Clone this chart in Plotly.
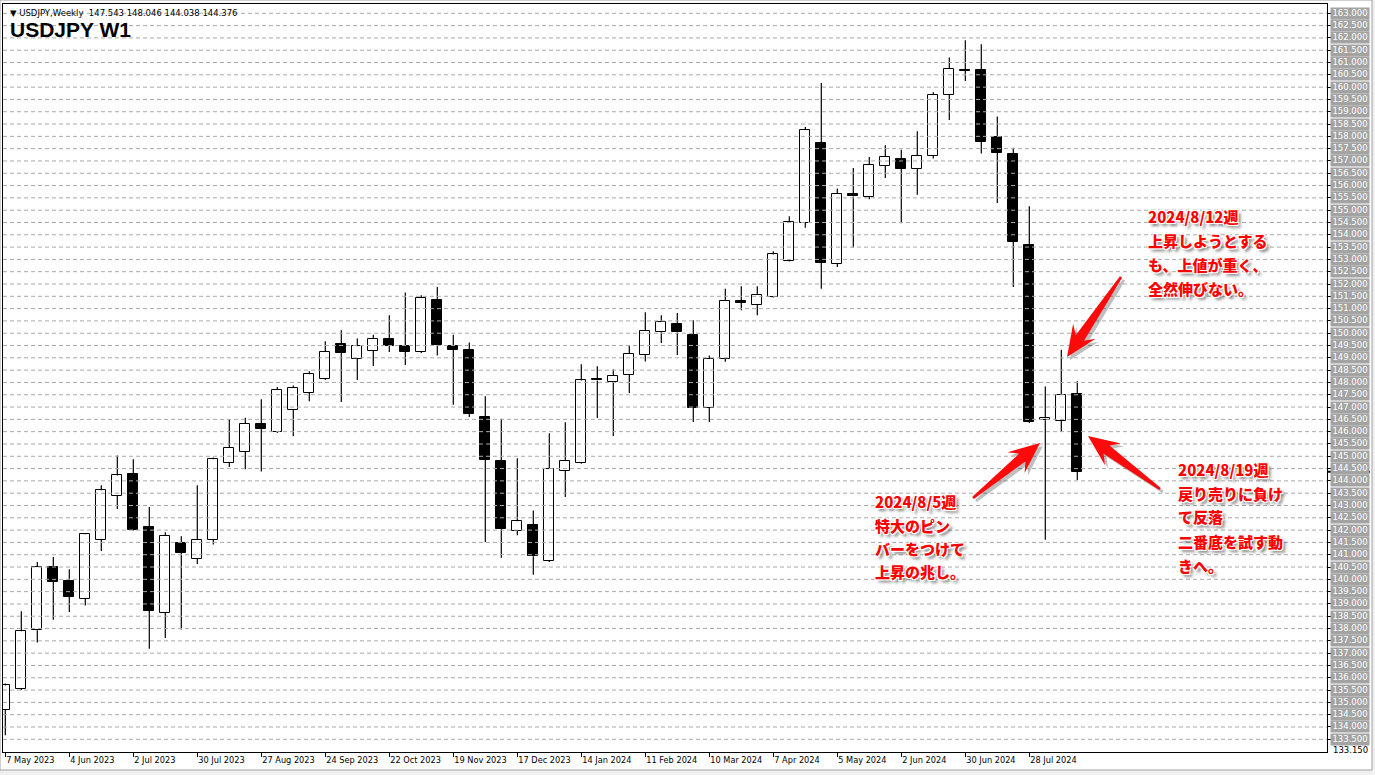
import math

import numpy as np
import plotly.graph_objects as go

# canvas / plot-area geometry in screen pixels
W, H = 1375, 775
PLOT_L, PLOT_R, PLOT_T, PLOT_B = 3, 1327, 4, 752

# weekly USDJPY candles, first bar = week of 7 May 2023
opens = [134.70, 135.56, 137.93, 140.52, 139.92, 139.20, 141.60, 143.39, 144.30, 142.11,
         138.65, 141.48, 140.83, 141.60, 144.74, 145.19, 146.33, 145.99, 146.90, 147.59,
         148.14, 149.55, 148.95, 149.29, 149.78, 149.50, 149.25, 151.37, 149.50, 149.33,
         146.61, 144.82, 141.98, 142.19, 140.76, 144.42, 144.74, 148.16, 148.03, 148.32,
         149.13, 150.04, 150.39, 149.92, 146.96, 148.95, 151.33, 151.16, 151.49, 152.95,
         154.48, 157.75, 152.83, 155.64, 155.55, 156.81, 157.06, 156.69, 157.20, 159.70,
         160.70, 160.68, 157.97, 157.27, 153.57, 146.46, 146.45, 147.543]
highs = [135.77, 138.70, 140.70, 140.91, 140.41, 141.86, 143.82, 145.03, 144.88, 142.94,
         141.91, 141.75, 143.82, 144.95, 146.50, 146.57, 147.32, 147.82, 147.88, 148.46,
         149.67, 150.12, 149.79, 149.94, 150.73, 151.66, 151.54, 151.88, 149.94, 149.62,
         147.44, 146.53, 144.92, 142.80, 145.94, 146.38, 148.74, 148.66, 148.53, 149.51,
         150.85, 150.73, 150.82, 150.53, 149.10, 151.81, 151.91, 151.91, 153.33, 154.75,
         158.38, 160.17, 155.88, 156.71, 157.16, 157.64, 157.46, 158.21, 159.79, 161.20,
         161.90, 161.74, 158.81, 157.54, 155.16, 147.84, 149.33, 148.046]
lows = [133.66, 135.50, 137.43, 138.36, 138.67, 138.94, 141.15, 142.86, 141.98, 137.18,
        137.62, 137.96, 140.62, 141.42, 144.56, 144.47, 144.38, 145.95, 145.82, 147.24,
        148.10, 147.21, 148.10, 148.67, 149.24, 148.71, 149.20, 149.10, 147.09, 146.60,
        141.52, 140.88, 141.79, 140.19, 140.70, 143.35, 144.70, 146.56, 145.82, 147.57,
        148.85, 149.60, 149.12, 146.39, 146.39, 148.84, 150.93, 150.73, 151.45, 152.91,
        154.29, 151.81, 152.69, 153.48, 155.44, 156.31, 154.47, 155.63, 157.10, 158.66,
        160.25, 157.30, 155.29, 151.88, 146.35, 141.61, 145.99, 144.038]
closes = [135.69, 137.89, 140.52, 139.89, 139.28, 141.83, 143.62, 144.22, 142.02, 138.71,
          141.78, 141.07, 141.61, 144.88, 145.35, 146.33, 146.11, 147.71, 147.79, 148.33,
          149.25, 149.20, 149.47, 149.78, 149.50, 149.24, 151.45, 149.52, 149.33, 146.73,
          144.86, 142.06, 142.36, 140.94, 144.50, 144.82, 148.08, 148.08, 148.28, 149.17,
          150.11, 150.47, 150.03, 146.96, 148.97, 151.33, 151.23, 151.57, 153.20, 154.54,
          158.27, 152.87, 155.67, 155.56, 156.85, 157.18, 156.67, 157.22, 159.70, 160.75,
          160.67, 157.77, 157.32, 153.71, 146.39, 146.55, 147.51, 144.376]

tick_labels = ["7 May 2023", "4 Jun 2023", "2 Jul 2023", "30 Jul 2023", "27 Aug 2023",
               "24 Sep 2023", "22 Oct 2023", "19 Nov 2023", "17 Dec 2023", "14 Jan 2024",
               "11 Feb 2024", "10 Mar 2024", "7 Apr 2024", "5 May 2024", "2 Jun 2024",
               "30 Jun 2024", "28 Jul 2024"]
tick_every = 4
price_ticks = np.round(np.arange(133.5, 163.001, 0.5), 3)
chart_low = 133.150
last_bid = closes[-1]

notes = [
    (1146, [216.7, 240.7, 264.3, 288.3],
     ["2024/8/12週", "上昇しようとする", "も、上値が重く、", "全然伸びない。"]),
    (873, [501.7, 525.0, 548.3, 571.7],
     ["2024/8/5週", "特大のピン", "バーをつけて", "上昇の兆し。"]),
    (1176, [469.3, 493.3, 516.7, 541.7, 565.0],
     ["2024/8/19週", "戻り売りに負け", "て反落", "二番底を試す動", "きへ。"]),
]
arrows = [((1121, 277), (1067, 357)),
          ((973, 498), (1040, 443)),
          ((1160, 489), (1088, 436))]

X_RANGE = [(PLOT_L - 5.3) / 16, (PLOT_R - 5.3) / 16]
Y_RANGE = [163 - (PLOT_B - 13.3) / 24.61, 163 + (13.3 - PLOT_T) / 24.61]


def xp(px):
    return (px - PLOT_L) / (PLOT_R - PLOT_L)


def yp(py):
    return (PLOT_B - py) / (PLOT_B - PLOT_T)


def arrow_path(tail, tip, dx=0.0, dy=0.0):
    x0, y0 = tail[0] + dx, tail[1] + dy
    x1, y1 = tip[0] + dx, tip[1] + dy
    L = math.hypot(x1 - x0, y1 - y0)
    ux, uy = (x1 - x0) / L, (y1 - y0) / L
    nx, ny = -uy, ux
    hl, hw, nw, tw = 31, 13.5, 5, 1.3

    def P(t, w):
        return (x0 + ux * t + nx * w, y0 + uy * t + ny * w)

    pts = [P(0, tw), P(L - hl + 8, nw), P(L - hl, hw), P(L, 0),
           P(L - hl, -hw), P(L - hl + 8, -nw), P(0, -tw)]
    return "M " + " L ".join(f"{xp(a):.5f},{yp(b):.5f}" for a, b in pts) + " Z"


idx = list(range(len(opens)))
body_lo = [min(o, c) for o, c in zip(opens, closes)]
body_hi = [max(o, c) for o, c in zip(opens, closes)]

wx, wy = [], []
for i, h, l, lo, hi in zip(idx, highs, lows, body_lo, body_hi):
    wx += [i, i, None, i, i, None]
    wy += [h, hi, None, lo, l, None]

fig = go.Figure()
fig.add_trace(go.Bar(
    x=idx,
    y=[hi - lo for lo, hi in zip(body_lo, body_hi)],
    base=body_lo,
    width=0.62,
    marker=dict(color=["#ffffff" if c >= o else "#000000" for o, c in zip(opens, closes)],
                line=dict(color="#000000", width=1)),
    hoverinfo="skip",
))
fig.add_trace(go.Scatter(x=wx, y=wy, mode="lines",
                         line=dict(color="#000000", width=1.2), hoverinfo="skip"))

shapes = [
    dict(type="rect", xref="paper", yref="paper", layer="below",
         x0=xp(0), x1=xp(1372), y0=yp(770), y1=yp(0),
         fillcolor="#ffffff", line=dict(color="#a0a0a0", width=1)),
]
# MT4 draws its grid in front of the candles
for p in price_ticks:
    shapes.append(dict(type="line", xref="paper", yref="y", x0=0, x1=1, y0=p, y1=p,
                       layer="above", line=dict(color="#a9a9a9", width=1, dash="4px,3px")))
shapes.append(dict(type="line", xref="paper", yref="y", x0=1.0, x1=xp(1370),
                   y0=last_bid, y1=last_bid, line=dict(color="#000000", width=2)))
for tail, tip in arrows:
    shapes.append(dict(type="path", xref="paper", yref="paper",
                       path=arrow_path(tail, tip, 3, 3),
                       fillcolor="rgba(0,0,0,0.25)", line=dict(width=0)))
    shapes.append(dict(type="path", xref="paper", yref="paper",
                       path=arrow_path(tail, tip),
                       fillcolor="#ff0a0a", line=dict(width=0)))

annotations = [
    dict(x=xp(8), y=yp(13), xref="paper", yref="paper", xanchor="left", yanchor="middle",
         showarrow=False, text="▼ USDJPY,Weekly\u00a0 147.543 148.046 144.038 144.376",
         font=dict(family="DejaVu Sans", size=8.5, color="#000000")),
    dict(x=xp(8), y=yp(29), xref="paper", yref="paper", xanchor="left", yanchor="middle",
         showarrow=False, text="<b>USDJPY W1</b>",
         font=dict(family="Liberation Sans", size=21, color="#000000")),
    dict(x=xp(1331), y=yp(749.5), xref="paper", yref="paper", xanchor="left",
         yanchor="middle", showarrow=False, text=f"{chart_low:.3f}",
         font=dict(family="DejaVu Sans", size=8.5, color="#000000")),
]
for p in price_ticks:
    annotations.append(dict(
        x=xp(1350), y=p, xref="paper", yref="y", xanchor="center", yanchor="middle",
        showarrow=False, text=f"{p:.3f}", width=38, height=10.5, borderpad=0,
        bgcolor="#a3a3a3",
        font=dict(family="DejaVu Sans", size=8.5, color="#ffffff")))

shadow = ("1px 1px 0 #fff, -1px -1px 0 #fff, 1px -1px 0 #fff, -1px 1px 0 #fff, "
          "3px 3px 3px rgba(0,0,0,0.5)")
for left, ys, lines in notes:
    for py, line in zip(ys, lines):
        annotations.append(dict(
            x=xp(left), y=yp(py), xref="paper", yref="paper", xanchor="left",
            yanchor="middle", showarrow=False, text=line,
            font=dict(family="Noto Sans CJK JP", size=15, weight=900,
                      color="#ff0000", shadow=shadow)))

fig.update_layout(
    width=W, height=H, autosize=False,
    margin=dict(l=PLOT_L, r=W - PLOT_R, t=PLOT_T, b=H - PLOT_B),
    paper_bgcolor="#f0f0f0",
    plot_bgcolor="#ffffff",
    showlegend=False,
    bargap=0,
    xaxis=dict(
        range=X_RANGE,
        tickvals=[i * tick_every for i in range(len(tick_labels))],
        ticktext=tick_labels,
        ticks="outside", ticklen=4, tickcolor="#000000",
        ticklabelposition="outside right",
        tickfont=dict(family="DejaVu Sans", size=8.2, color="#000000"),
        showline=True, linecolor="#000000", linewidth=1, mirror=True,
        showgrid=False, zeroline=False, fixedrange=True,
    ),
    yaxis=dict(
        range=Y_RANGE, side="right",
        tickvals=price_ticks, showticklabels=False,
        ticks="outside", ticklen=3, tickcolor="#000000",
        showgrid=False,
        showline=True, linecolor="#000000", linewidth=1, mirror=True,
        zeroline=False, fixedrange=True,
    ),
    shapes=shapes,
    annotations=annotations,
)

# page body has a default 8px margin; drop it so the figure sits at the window origin
fig.write_html("out.html", config={"displayModeBar": False},
               post_script="document.body.style.margin='0';document.body.style.overflow='hidden';")
